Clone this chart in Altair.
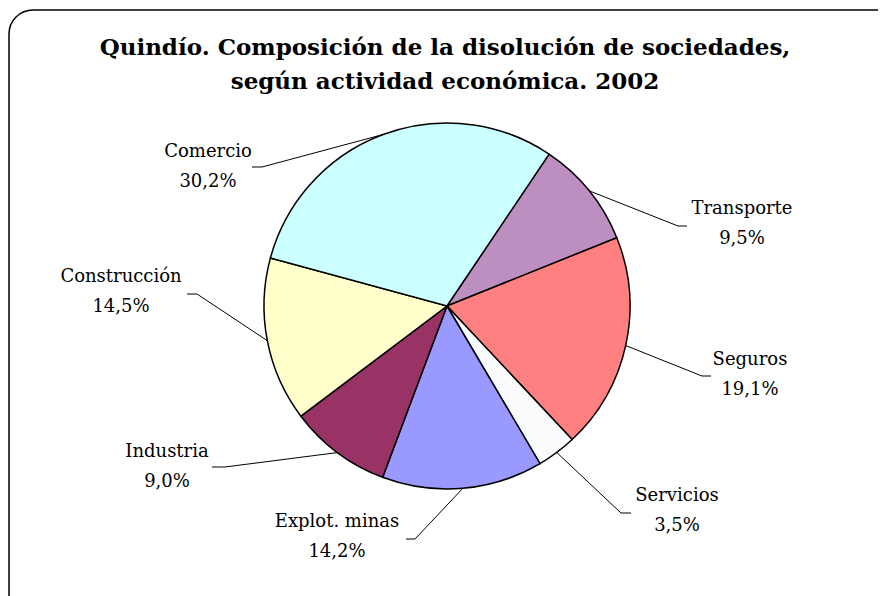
import math
import altair as alt
import pandas as pd

# ---------------- data ----------------
categories = ["Transporte", "Seguros", "Servicios", "Explot. minas",
              "Industria", "Construcción", "Comercio"]
values = [9.5, 19.1, 3.5, 14.2, 9.0, 14.5, 30.2]
title_lines = ["Quindío. Composición de la disolución de sociedades,",
               "según actividad económica. 2002"]

# ---------------- style / layout ----------------
colors = ["#BC8FC0", "#FF8080", "#FAFBFC", "#9999FF",
          "#993366", "#FFFFCC", "#CCFFFF"]
W, H = 869, 586
CX, CY, R = 438, 296, 183
START_DEG = 33.9
# label centre (name line) and leader elbow, offsets from pie centre
label_off = {
    "Comercio": (-239, -154), "Transporte": (295, -97), "Seguros": (303, 54),
    "Servicios": (230, 190), "Explot. minas": (-110, 216),
    "Industria": (-280, 146), "Construcción": (-326, -29),
}
elbow_inner = {
    "Comercio": (-185, -139), "Transporte": (231, -80), "Seguros": (255, 70),
    "Servicios": (174, 207), "Explot. minas": (-32, 233),
    "Industria": (-222, 161), "Construcción": (-250, -12),
}
elbow_outer = {
    "Comercio": (-195, -139), "Transporte": (240, -80), "Seguros": (264, 70),
    "Servicios": (184, 207), "Explot. minas": (-41, 233),
    "Industria": (-235, 161), "Construcción": (-260, -12),
}
FONT = "DejaVu Serif"

pie_df = pd.DataFrame({"cat": categories, "value": values,
                       "idx": list(range(len(categories)))})

total = sum(values)
rows = []
cum = 0.0
for c, v in zip(categories, values):
    mid = math.radians(START_DEG) + 2 * math.pi * (cum + v / 2) / total
    cum += v
    ex, ey = CX + R * math.sin(mid), CY - R * math.cos(mid)
    ix, iy = CX + elbow_inner[c][0], CY + elbow_inner[c][1]
    ox, oy = CX + elbow_outer[c][0], CY + elbow_outer[c][1]
    lx, ly = CX + label_off[c][0], CY + label_off[c][1]
    rows.append(dict(cat=c, ex=ex, ey=ey, ix=ix, iy=iy, ox=ox, oy=oy,
                     lx=lx, ly=ly, ly2=ly + 30,
                     pct=f"{v:.1f}".replace(".", ",") + "%"))
lab_df = pd.DataFrame(rows)

xs = alt.Scale(domain=[0, W], range=[0, W], nice=False, zero=False)
ys = alt.Scale(domain=[0, H], range=[0, H], nice=False, zero=False)

border = alt.Chart(pd.DataFrame({"a": [0]})).mark_rect(
    fillOpacity=0, stroke="black", strokeWidth=1.5, cornerRadius=24
).encode(x=alt.value(0), x2=alt.value(W + 60), y=alt.value(0), y2=alt.value(H + 60))

pie = alt.Chart(pie_df).mark_arc(stroke="black", strokeWidth=1.5, radius=R).encode(
    theta=alt.Theta("value:Q", stack=True,
                    scale=alt.Scale(range=[math.radians(START_DEG),
                                           math.radians(START_DEG) + 2 * math.pi])),
    color=alt.Color("cat:N", scale=alt.Scale(domain=categories, range=colors), legend=None),
    order=alt.Order("idx:Q"),
    x=alt.value(CX), y=alt.value(CY),
)

base = alt.Chart(lab_df)
rule1 = base.mark_rule(color="black", strokeWidth=1).encode(
    x=alt.X("ex:Q", scale=xs, axis=None), y=alt.Y("ey:Q", scale=ys, axis=None),
    x2="ix:Q", y2="iy:Q")
rule2 = base.mark_rule(color="black", strokeWidth=1).encode(
    x=alt.X("ix:Q", scale=xs, axis=None), y=alt.Y("iy:Q", scale=ys, axis=None),
    x2="ox:Q", y2="oy:Q")
name_txt = base.mark_text(font=FONT, fontSize=18, color="black", baseline="middle").encode(
    x=alt.X("lx:Q", scale=xs, axis=None), y=alt.Y("ly:Q", scale=ys, axis=None), text="cat:N")
pct_txt = base.mark_text(font=FONT, fontSize=18, color="black", baseline="middle").encode(
    x=alt.X("lx:Q", scale=xs, axis=None), y=alt.Y("ly2:Q", scale=ys, axis=None), text="pct:N")

title_df = pd.DataFrame({"t": title_lines, "tx": [CX - 2, CX - 2], "ty": [38, 72]})
title = alt.Chart(title_df).mark_text(font=FONT, fontSize=23, fontWeight="bold",
                                      color="black", baseline="middle").encode(
    x=alt.X("tx:Q", scale=xs, axis=None), y=alt.Y("ty:Q", scale=ys, axis=None), text="t:N")

chart = alt.layer(border, pie, rule1, rule2, name_txt, pct_txt, title).properties(
    width=W, height=H,
    autosize=alt.AutoSizeParams(type="none"),
    padding={"left": 1, "top": 2, "right": 0, "bottom": 0},
    background="white",
).configure_view(stroke=None)

chart.save("out.html", embed_options={"renderer": "svg", "actions": False})
